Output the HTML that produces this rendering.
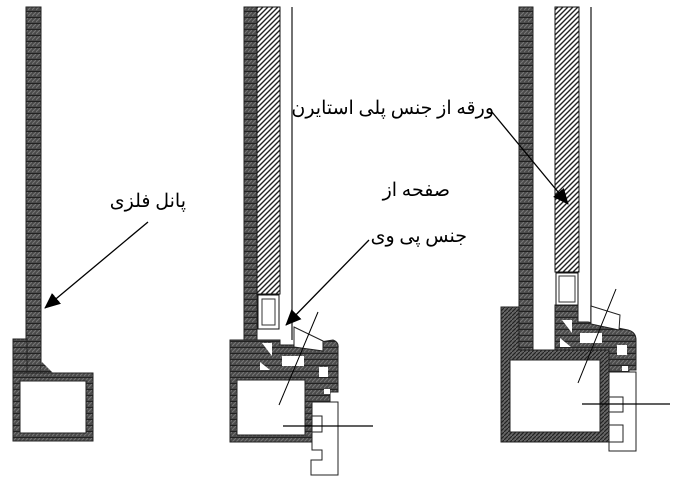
<!DOCTYPE html>
<html><head><meta charset="utf-8"><style>
html,body{margin:0;padding:0;background:#fff;}
svg{display:block}
text{font-family:"Liberation Serif","DejaVu Serif",serif;font-size:19px;fill:#000}
</style></head><body>
<svg width="674" height="481" viewBox="0 0 674 481" xmlns="http://www.w3.org/2000/svg">
<defs>
<pattern id="dk" width="4" height="6" patternUnits="userSpaceOnUse">
<rect width="4" height="6" fill="#4a4a4a"/><path d="M0 4L4 0" stroke="#777" stroke-width="1"/><path d="M0 5.5H4" stroke="#222" stroke-width="1"/>
</pattern>
<pattern id="gl" width="5" height="5" patternUnits="userSpaceOnUse">
<rect width="5" height="5" fill="#fff"/><path d="M-1 6L6 -1M-1 1L1 -1M4 6L6 4" stroke="#222" stroke-width="1.4"/>
</pattern>
<pattern id="hx" width="4" height="4" patternUnits="userSpaceOnUse">
<rect width="4" height="4" fill="#666"/><path d="M0 4L4 0" stroke="#222" stroke-width="1.2"/>
</pattern>
<marker id="ar2" markerWidth="16" markerHeight="14" refX="15" refY="7" orient="auto" markerUnits="userSpaceOnUse" viewBox="0 0 16 14">
<path d="M0 0L16 7L0 14Z" fill="#000"/></marker>
</defs>

<!-- Figure 1 -->
<rect x="26" y="7" width="15" height="368" fill="url(#dk)" stroke="#222"/>
<rect x="13" y="339" width="14" height="40" fill="url(#dk)" stroke="#222"/>
<path d="M41 361L53 373H41Z" fill="url(#dk)"/>
<path d="M13 373H93V441H13Z M20 381V433H86V381Z" fill="url(#dk)" fill-rule="evenodd" stroke="#222"/>

<!-- Figure 2 -->
<rect x="244" y="7" width="13" height="333" fill="url(#dk)" stroke="#222"/>
<rect x="257" y="7" width="23" height="287" fill="url(#gl)" stroke="#111"/>
<line x1="292" y1="7" x2="292" y2="340" stroke="#444" stroke-width="1.5"/>
<rect x="258" y="295" width="21" height="34" fill="#fff" stroke="#111"/>
<rect x="262" y="299" width="13" height="26" fill="#fff" stroke="#333"/>
<path d="M230 340H280V345H300L333 340Q339 342 338 348V392H330V402H312V442H230Z" fill="url(#dk)" stroke="#222"/>
<rect x="237" y="380" width="68" height="55" fill="#fff" stroke="#222"/>
<path d="M262 343L272 343L272 356Z" fill="#fff"/>
<path d="M260 362L270 370L260 370Z" fill="#fff"/>
<rect x="282" y="356" width="22" height="10" fill="#fff"/>
<rect x="319" y="367" width="9" height="10" fill="#fff"/>
<rect x="324" y="389" width="6" height="5" fill="#fff"/>
<path d="M294 327L323 341L323 351L294 347Z" fill="#fff" stroke="#222"/>
<path d="M312 402H338V475H311V460H322V450H312V432H322V416H312Z" fill="#fff" stroke="#222"/>
<line x1="283" y1="426" x2="373" y2="426" stroke="#000" stroke-width="1.3"/>
<line x1="318" y1="312" x2="279" y2="405" stroke="#000" stroke-width="1"/>

<!-- Figure 3 -->
<rect x="519" y="7" width="14" height="343" fill="url(#dk)" stroke="#222"/>
<rect x="555" y="7" width="24" height="265" fill="url(#gl)" stroke="#111"/>
<line x1="591" y1="7" x2="591" y2="330" stroke="#444" stroke-width="1.5"/>
<rect x="556" y="273" width="22" height="32" fill="#fff" stroke="#111"/>
<rect x="559" y="276" width="16" height="26" fill="#fff" stroke="#333"/>
<path d="M555 305H578V322L588 322L628 330Q636 332 636 340V370H629V388H609V350H555Z" fill="url(#dk)" stroke="#222"/>
<path d="M501 307H519V350H609V442H501Z M510 360V432H600V360Z" fill="url(#hx)" fill-rule="evenodd" stroke="#222"/>
<path d="M562 320L572 320L572 333Z" fill="#fff"/>
<path d="M560 338L571 347L560 347Z" fill="#fff"/>
<rect x="580" y="333" width="22" height="10" fill="#fff"/>
<rect x="617" y="345" width="10" height="10" fill="#fff"/>
<rect x="622" y="366" width="6" height="5" fill="#fff"/>
<path d="M591 306L620 315L619 330L591 324Z" fill="#fff" stroke="#222"/>
<path d="M609 372H636V451H609V442H623V425H609V412H623V397H609Z" fill="#fff" stroke="#222"/>
<line x1="582" y1="404" x2="670" y2="404" stroke="#000" stroke-width="1.3"/>
<line x1="616" y1="289" x2="578" y2="383" stroke="#000" stroke-width="1"/>

<!-- Labels -->
<text x="186" y="207" text-anchor="start" direction="rtl">پانل فلزی</text>
<line x1="148" y1="222" x2="45" y2="308" stroke="#000" stroke-width="1.3" marker-end="url(#ar2)"/>
<text x="450" y="196" text-anchor="start" direction="rtl">صفحه از</text>
<text x="467" y="242" text-anchor="start" direction="rtl">جنس پی وی</text>
<line x1="369" y1="240" x2="286" y2="325" stroke="#000" stroke-width="1.3" marker-end="url(#ar2)"/>
<text x="494" y="114" text-anchor="start" direction="rtl">ورقه از جنس پلی استایرن</text>
<line x1="492" y1="112" x2="568" y2="204" stroke="#000" stroke-width="1.3" marker-end="url(#ar2)"/>
</svg>
</body></html>
